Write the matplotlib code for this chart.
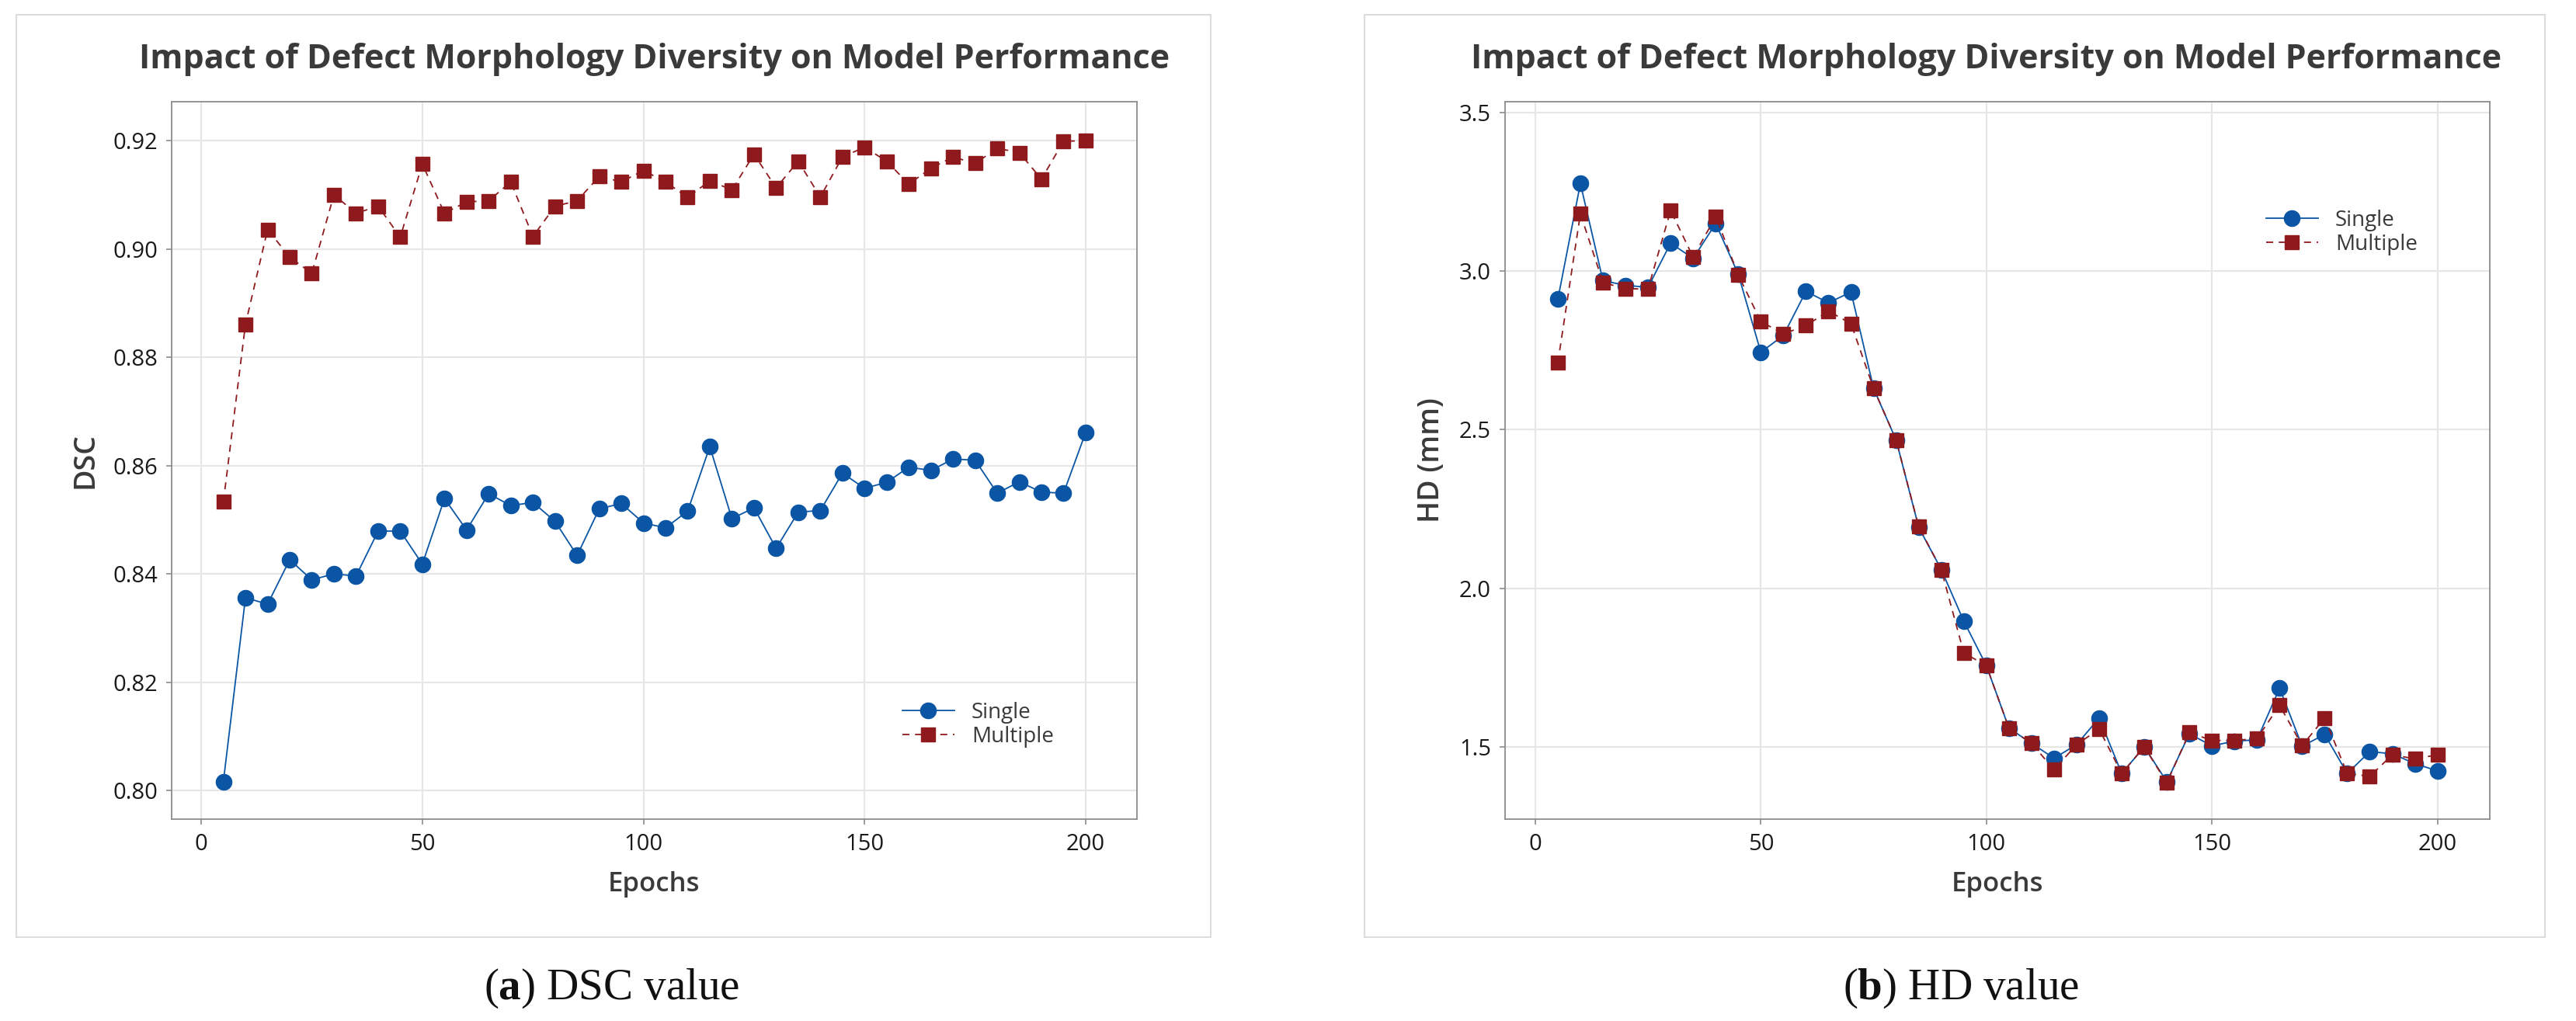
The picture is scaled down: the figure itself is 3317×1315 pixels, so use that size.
import matplotlib
matplotlib.use("Agg")
import matplotlib.pyplot as plt
import matplotlib.patches as mpatches
from matplotlib.ticker import FormatStrFormatter

# data
epochs = list(range(5, 205, 5))

dsc_single = [0.8016, 0.8356, 0.8344, 0.8426, 0.8389, 0.8400, 0.8396, 0.8479, 0.8479, 0.8418,
              0.8539, 0.8481, 0.8548, 0.8526, 0.8532, 0.8497, 0.8434, 0.8520, 0.8530, 0.8494,
              0.8485, 0.8516, 0.8635, 0.8502, 0.8522, 0.8447, 0.8514, 0.8517, 0.8586, 0.8558,
              0.8569, 0.8597, 0.8591, 0.8612, 0.8610, 0.8549, 0.8570, 0.8551, 0.8549, 0.8661]
dsc_multiple = [0.8533, 0.8861, 0.9036, 0.8985, 0.8955, 0.9100, 0.9066, 0.9079, 0.9022, 0.9157,
                0.9066, 0.9087, 0.9089, 0.9124, 0.9023, 0.9079, 0.9089, 0.9134, 0.9124, 0.9145,
                0.9124, 0.9095, 0.9126, 0.9109, 0.9175, 0.9113, 0.9162, 0.9096, 0.9170, 0.9188,
                0.9162, 0.9120, 0.9149, 0.9170, 0.9158, 0.9186, 0.9178, 0.9129, 0.9199, 0.9200]

hd_single = [2.911, 3.276, 2.970, 2.955, 2.949, 3.088, 3.040, 3.150, 2.990, 2.744,
             2.797, 2.936, 2.900, 2.934, 2.630, 2.467, 2.192, 2.059, 1.896, 1.756,
             1.559, 1.511, 1.464, 1.507, 1.591, 1.416, 1.500, 1.390, 1.541, 1.503,
             1.518, 1.522, 1.685, 1.502, 1.539, 1.416, 1.485, 1.478, 1.447, 1.424]
hd_multiple = [2.711, 3.181, 2.964, 2.944, 2.944, 3.191, 3.044, 3.172, 2.988, 2.841,
               2.802, 2.828, 2.874, 2.834, 2.630, 2.467, 2.194, 2.059, 1.796, 1.756,
               1.559, 1.511, 1.428, 1.507, 1.556, 1.416, 1.500, 1.386, 1.545, 1.520,
               1.520, 1.526, 1.631, 1.504, 1.591, 1.416, 1.407, 1.475, 1.462, 1.475]

title = "Impact of Defect Morphology Diversity on Model Performance"
labels = ["Single", "Multiple"]

blue = "#0B56A4"
red = "#8E1A1E"
txt = "#3A3A3A"

plt.rcParams["font.family"] = ["Open Sans", "DejaVu Sans"]
plt.rcParams["mathtext.fontset"] = "custom"
plt.rcParams["mathtext.bf"] = "Liberation Serif:bold"

W, H = 3317, 1315
fig = plt.figure(figsize=(W / 100, H / 100), dpi=100)


def fx(px):
    return px / W


def fy(py):
    return 1 - py / H


# panel frames
for x0, x1 in [(21, 1559), (1757, 3277)]:
    fig.patches.append(mpatches.Rectangle((fx(x0), fy(1207)), fx(x1 - x0), (1207 - 19) / H,
                                          transform=fig.transFigure, fill=False,
                                          edgecolor="#DCDCDC", lw=1.5))


def make_panel(left, right, y1, y2, ylim, yticks, yfmt, ylabel, leg_xy, title_x, cap_x, cap_letter, cap_text):
    ax = fig.add_axes([fx(left), fy(1055), fx(right - left), (1055 - 131) / H])
    ax.plot(epochs, y1, color=blue, lw=1.3, marker="o", ms=14.5, mec=blue, mfc=blue, label=labels[0])
    ax.plot(epochs, y2, color=red, lw=1.3, ls=(0, (5, 4)), marker="s", ms=13.5, mec=red, mfc=red,
            label=labels[1])
    ax.set_xlim(-6.7, 211.6)
    ax.set_ylim(*ylim)
    ax.set_xticks([0, 50, 100, 150, 200])
    ax.set_yticks(yticks)
    ax.yaxis.set_major_formatter(FormatStrFormatter(yfmt))
    ax.grid(True, color="#E6E6E6", lw=1.5)
    ax.set_axisbelow(True)
    for s in ax.spines.values():
        s.set_color("#8C8C8C")
        s.set_linewidth(1.3)
    ax.tick_params(direction="out", length=5, width=1.2, color="#8C8C8C",
                   labelsize=21, labelcolor="#1A1A1A", pad=8)
    ax.set_xlabel("Epochs", fontsize=25, fontweight="semibold", color=txt, labelpad=14)
    ax.set_ylabel(ylabel, fontsize=27, fontweight="semibold", color=txt, labelpad=12)
    ax.legend(loc="upper left", bbox_to_anchor=(fx(leg_xy[0]), fy(leg_xy[1])),
              bbox_transform=fig.transFigure, frameon=False, fontsize=20,
              handlelength=2.4, borderpad=0, labelspacing=0.1, handletextpad=0.8,
              labelcolor=txt)
    fig.text(fx(title_x), fy(76), title, ha="center", va="center", fontsize=31,
             fontweight="bold", color=txt)
    fig.text(fx(cap_x), fy(1273), r"(" + r"$\mathbf{" + cap_letter + "}$" + ") " + cap_text,
             ha="center", va="center", fontsize=41, family="Liberation Serif", color="#111111")
    return ax


make_panel(221, 1464, dsc_single, dsc_multiple, (0.7947, 0.9272),
           [0.80, 0.82, 0.84, 0.86, 0.88, 0.90, 0.92], "%.2f", "DSC",
           (1148, 890), 843, 788, "a", "DSC value")
make_panel(1938, 3206, hd_single, hd_multiple, (1.272, 3.534),
           [1.5, 2.0, 2.5, 3.0, 3.5], "%.1f", "HD (mm)",
           (2904, 256), 2558, 2525, "b", "HD value")

fig.savefig("out.png", dpi=100)
